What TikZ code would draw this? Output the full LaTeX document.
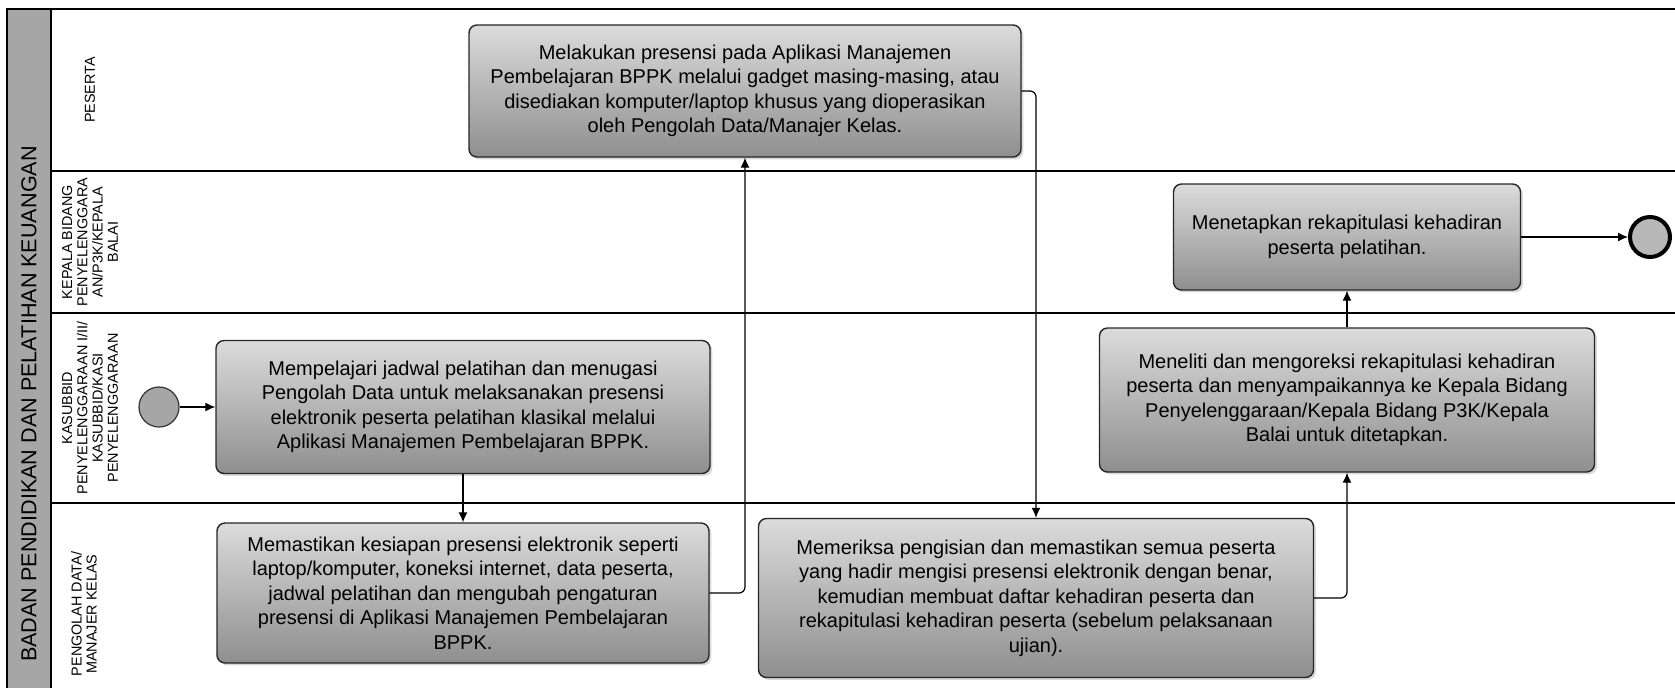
\documentclass[tikz,border=0pt]{standalone}
\usepackage{fontspec}
\setmainfont{Liberation Sans}
\usetikzlibrary{arrows.meta,shadows}

\begin{document}
\begin{tikzpicture}[
    x=0.5pt, y=-0.5pt,
    >={Latex[length=5pt,width=4.5pt]},
    task/.style={draw=black!85, line width=0.7pt, rounded corners=4pt, top color=black!14, bottom color=black!44, align=center, inner sep=0pt, font=\fontsize{10}{12.25}\selectfont, drop shadow={shadow xshift=1.2pt, shadow yshift=-1.2pt, opacity=0.3}},
    lanelabel/.style={rotate=90, align=center, font=\fontsize{7.2}{7.6}\selectfont},
    flow/.style={->, line width=0.6pt, rounded corners=3pt},
    startev/.style={circle, draw=black!80, line width=0.6pt, fill=black!35, minimum size=20pt, inner sep=0pt},
    endev/.style={circle, draw=black, line width=2pt, fill=black!28, minimum size=20pt, inner sep=0pt}
]
\clip (0,0) rectangle (1675,687);

% Pool and lanes
\draw[line width=0.8pt, fill=black!35] (7,9) rectangle (51,740);
\draw[line width=0.8pt] (51,9) -- (1690,9);
\draw[line width=0.8pt] (51,171) -- (1690,171);
\draw[line width=0.8pt] (51,313) -- (1690,313);
\draw[line width=0.8pt] (51,503) -- (1690,503);
\node[rotate=90, font=\fontsize{10.8}{12}\selectfont] (pool) at (29,404) {BADAN PENDIDIKAN DAN PELATIHAN KEUANGAN};

% Lane labels
\node[lanelabel] (peserta) at (90,90) {PESERTA};
\node[lanelabel] (kabid) at (90,242) {KEPALA BIDANG\\PENYELENGGARA\\AN/P3K/KEPALA\\BALAI};
\node[lanelabel] (kasubbid) at (90,408) {KASUBBID\\PENYELENGGARAAN I/II/\\KASUBBID/KASI\\PENYELENGGARAAN};
\node[lanelabel] (pengolah) at (84,614) {PENGOLAH DATA/\\MANAJER KELAS};

% Events
\node[startev] (mulai) at (159,407) {};
\node[endev] (selesai) at (1650,237) {};

% Tasks
\node[task, minimum width=247pt, minimum height=66.5pt] (jadwal) at (463,407) {Mempelajari jadwal pelatihan dan menugasi\\Pengolah Data untuk melaksanakan presensi\\elektronik peserta pelatihan klasikal melalui\\Aplikasi Manajemen Pembelajaran BPPK.};
\node[task, minimum width=246pt, minimum height=70pt] (kesiapan) at (463,593) {Memastikan kesiapan presensi elektronik seperti\\laptop/komputer, koneksi internet, data peserta,\\jadwal pelatihan dan mengubah pengaturan\\presensi di Aplikasi Manajemen Pembelajaran\\BPPK.};
\node[task, minimum width=276pt, minimum height=66pt] (presensi) at (745,91) {Melakukan presensi pada Aplikasi Manajemen\\Pembelajaran BPPK melalui gadget masing-masing, atau\\disediakan komputer/laptop khusus yang dioperasikan\\oleh Pengolah Data/Manajer Kelas.};
\node[task, minimum width=277.5pt, minimum height=79.5pt] (periksa) at (1036,598) {Memeriksa pengisian dan memastikan semua peserta\\yang hadir mengisi presensi elektronik dengan benar,\\kemudian membuat daftar kehadiran peserta dan\\rekapitulasi kehadiran peserta (sebelum pelaksanaan\\ujian).};
\node[task, minimum width=247.5pt, minimum height=72pt] (teliti) at (1347,400) {Meneliti dan mengoreksi rekapitulasi kehadiran\\peserta dan menyampaikannya ke Kepala Bidang\\Penyelenggaraan/Kepala Bidang P3K/Kepala\\Balai untuk ditetapkan.};
\node[task, minimum width=173.5pt, minimum height=53pt] (tetapkan) at (1347,237) {Menetapkan rekapitulasi kehadiran\\peserta pelatihan.};

% Sequence flows
\draw[flow] (mulai) -- (jadwal);
\draw[flow] (jadwal) -- (kesiapan);
\draw[flow] (kesiapan.east) -| (presensi.south);
\draw[flow] (presensi.east) -| (periksa.north);
\draw[flow] (periksa.east) -| (teliti.south);
\draw[flow] (teliti) -- (tetapkan);
\draw[flow] (tetapkan) -- (selesai);

\end{tikzpicture}
\end{document}
